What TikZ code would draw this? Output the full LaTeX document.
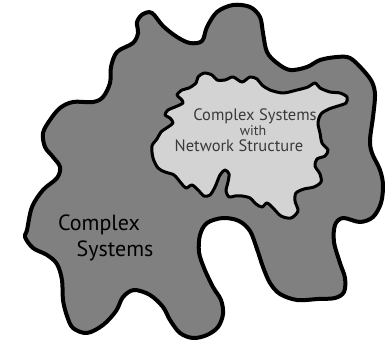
\documentclass[tikz,border=0pt]{standalone}
\usepackage{fontspec}
\setmainfont{PT Sans}
\definecolor{outerfill}{HTML}{808080}
\definecolor{innerfill}{HTML}{D3D3D3}
\definecolor{innertext}{HTML}{3A3A3A}
\tikzset{
  blobline/.style={draw=black, line join=round},
  outerblob/.style={blobline, fill=outerfill, line width=4pt},
  innerblob/.style={blobline, fill=innerfill, line width=3pt},
  innerlabel/.style={text=innertext, font=\fontsize{16.5}{17}\selectfont, inner sep=0pt, anchor=center},
  outerlabel/.style={text=black, font=\fontsize{22}{24}\selectfont, inner sep=0pt, anchor=center}
}
\begin{document}
\begin{tikzpicture}[x=1pt,y=-1pt]
\useasboundingbox (0,0) rectangle (385,342);
% outer blob
\draw[outerblob] plot[smooth cycle, tension=0.55] coordinates {
 (27,230) (32,207) (43,190) (57,178) (60,167) (53,157) (45,147) (43,133) (50,120)
 (60,108) (73,102) (93,102) (103,97) (110,83) (111,67) (117,52) (133,43) (138,33)
 (137,22) (143,14) (152,13) (163,26) (177,37) (190,43) (202,41) (207,27) (217,12)
 (233,5) (250,7) (260,17) (263,33) (267,52) (277,63) (290,70) (307,67) (320,60)
 (337,57) (350,58) (363,70) (372,82) (375,95) (373,117) (370,140) (372,153) (380,170)
 (383,185) (381,203) (373,217) (360,222) (343,218) (335,225) (334,242) (340,263)
 (345,278) (344,292) (335,298) (318,299) (297,300) (280,294) (270,283) (263,267)
 (257,249) (250,231) (239,221) (223,218) (207,223) (200,235) (199,252) (204,268)
 (213,287) (221,300) (223,314) (218,327) (207,335) (193,338) (180,333) (170,320)
 (163,307) (150,295) (134,290) (123,297) (116,311) (103,325) (87,333) (73,328)
 (67,316) (63,300) (62,280) (57,264) (47,255) (33,248) (25,237)
};
% inner blob
\draw[innerblob] plot[smooth cycle, tension=0.5] coordinates {
 (157,139) (161,132) (168,127) (173,123) (170,118) (165,115) (168,110) (175,107)
 (183,103) (181,99) (177,95) (182,90) (189,88) (196,83) (198,77) (204,73) (212,75)
 (217,80) (225,80) (233,77) (242,82) (250,77) (257,79) (262,85) (270,90) (283,93)
 (297,90) (308,87) (315,83) (320,88) (330,92) (340,93) (347,97) (346,103) (338,106)
 (329,109) (321,114) (318,123) (320,133) (322,143) (328,150) (325,156) (317,159)
 (315,166) (320,174) (321,182) (314,187) (304,189) (296,193) (295,201) (298,211)
 (291,218) (281,216) (273,208) (267,203) (262,207) (256,204) (250,198) (242,196)
 (235,196) (229,197) (226,191) (228,182) (229,174) (225,170) (220,175) (215,187)
 (210,195) (204,196) (198,190) (192,185) (186,188) (181,183) (174,175) (165,172)
 (158,168) (153,158) (152,146)
};
% labels
\node[innerlabel] (l1) at (255,116) {Complex Systems};
\node[innerlabel, font=\fontsize{14}{15}\selectfont] (l2) at (253,131) {with};
\node[innerlabel] (l3) at (239,146) {Network Structure};
\node[outerlabel] (o1) at (99,225) {Complex};
\node[outerlabel] (o2) at (115,251) {Systems};
\end{tikzpicture}
\end{document}
